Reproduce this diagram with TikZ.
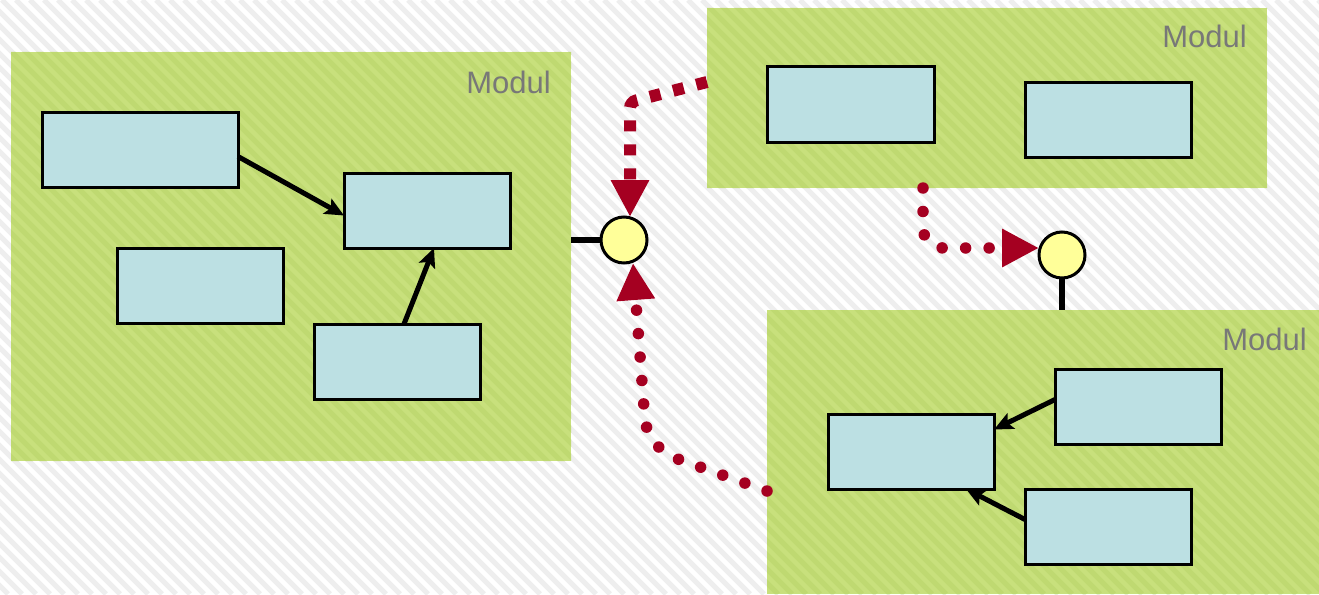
\documentclass[tikz,border=0pt]{standalone}
\usepackage{fontspec}
\setmainfont{Liberation Sans}
\usetikzlibrary{arrows.meta}
\definecolor{modgreen}{RGB}{200,224,124}
\definecolor{modstripe}{RGB}{191,217,113}
\definecolor{boxblue}{RGB}{188,224,227}
\definecolor{portyellow}{RGB}{255,255,153}
\definecolor{linkred}{RGB}{165,0,33}
\definecolor{bgstripe}{RGB}{238,238,238}
\definecolor{labelgray}{RGB}{120,120,120}

\begin{document}
\begin{tikzpicture}[x=1pt,y=-1pt,
  module/.style={fill=modgreen, inner sep=0pt, outer sep=0pt},
  part/.style={draw=black, line width=3pt, fill=boxblue, inner sep=0pt, outer sep=0pt,
    minimum width=166pt, minimum height=75pt},
  port/.style={circle, draw=black, line width=3pt, fill=portyellow,
    minimum size=46pt, inner sep=0pt, outer sep=0pt},
  modlabel/.style={anchor=base east, text=labelgray, inner sep=0pt,
    font=\fontsize{31}{36}\selectfont},
  dep/.style={line width=5pt, -{Stealth[length=19pt,width=17pt,inset=4pt]}},
  wire/.style={line width=6pt},
  dashlink/.style={linkred, line width=12pt, dash pattern=on 11pt off 13pt,
    rounded corners=6pt, -{Triangle[length=37pt,width=36pt]}},
  dotlink/.style={linkred, line width=11.5pt, line cap=round,
    dash pattern=on 0pt off 23.5pt, -{Triangle[length=37pt,width=36pt]}},
]
\useasboundingbox (0,0) rectangle (1319,594);

% striped background
\fill[white] (0,0) rectangle (1319,594);
\begin{scope}
  \clip (0,0) rectangle (1319,594);
  \foreach \i in {-600,-586,...,1330}
    \draw[bgstripe, line width=5pt] (\i,0) -- (\i+594,594);
\end{scope}

% modules
\node[module, minimum width=560pt, minimum height=409pt] (m1) at (291,256.5) {};
\node[module, minimum width=560pt, minimum height=180pt] (m2) at (987,98) {};
\node[module, minimum width=552pt, minimum height=284pt] (m3) at (1043,452) {};
\begin{scope}
  \clip (11,52) rectangle (571,461) (707,8) rectangle (1267,188) (767,310) rectangle (1319,594);
  \foreach \i in {-600,-586,...,1330}
    \draw[modstripe, line width=5pt] (\i,0) -- (\i+594,594);
\end{scope}

\node[modlabel] (l1) at (551,93) {Modul};
\node[modlabel] (l2) at (1247,48) {Modul};
\node[modlabel] (l3) at (1307,350) {Modul};

% parts
\node[part, minimum width=196pt] (a) at (140,149.5) {};
\node[part] (b) at (427,210.5) {};
\node[part] (c) at (200,285.5) {};
\node[part] (d) at (397,361.5) {};
\node[part, minimum width=167pt] (e) at (850.5,104.5) {};
\node[part] (f) at (1108,119.5) {};
\node[part] (g) at (1138,406.5) {};
\node[part] (h) at (911,451.5) {};
\node[part] (i) at (1108,526.5) {};

% ports
\node[port] (p1) at (624,240) {};
\node[port] (p2) at (1062,255) {};
\draw[wire] (m1.east |- p1) -- (p1.west);
\draw[wire] (p2.south) -- (m3.north -| p2);

% dependencies inside modules
\draw[dep] ([yshift=-7pt]a.east) -- ([yshift=-5pt]b.west);
\draw[dep] ([xshift=7pt]d.north) -- ([xshift=7pt]b.south);
\draw[dep] ([yshift=7pt]g.west) -- ([yshift=22pt]h.east);
\draw[dep] ([yshift=7pt]i.west) -- ([xshift=55pt]h.south);

% links between modules
\draw[dashlink] ([yshift=16pt]m2.west) -- (630,102) -- ([xshift=6pt]p1.north);
\draw[dotlink] ([xshift=-64pt]m2.south) [rounded corners=20pt] -- (923,248) [sharp corners] -- ([yshift=7pt]p2.west);
\draw[dotlink] ([yshift=-39pt]m3.west) [rounded corners=30pt] -- (647,448) [sharp corners] -- ([xshift=9pt]p1.south);
\end{tikzpicture}
\end{document}
